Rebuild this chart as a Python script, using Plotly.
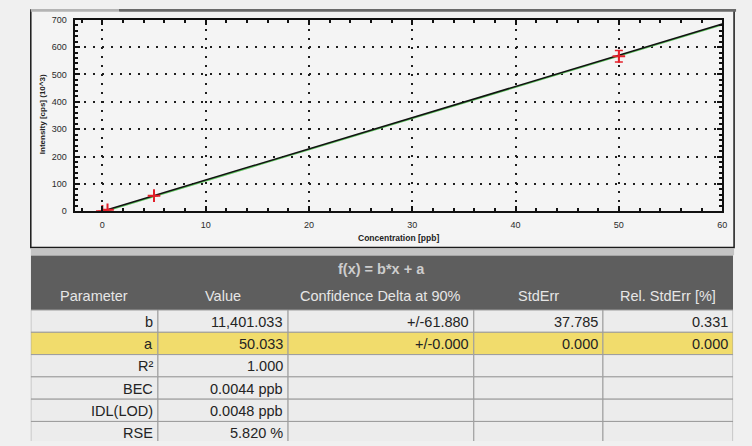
import plotly.graph_objects as go

W, H = 752, 446

# --- calibration standards (intensity in 10^3 cps) ---
std_conc = [0.0, 0.5, 5.0, 50.0]
std_intensity = [0.05, 5.8, 57.0, 566.0]
std_err = [0.0, 0.0, 0.0, 21.0]

# --- linear fit f(x) = b*x + a (b in cps/ppb, a in cps) ---
fit_b = 11401.033
fit_a = 50.033
fit_conc = [0.0, 60.0]

x_ticks = [0, 10, 20, 30, 40, 50, 60]
y_ticks = [0, 100, 200, 300, 400, 500, 600, 700]

# --- regression statistics table ---
col_headers = ["Parameter", "Value", "Confidence Delta at 90%", "StdErr", "Rel. StdErr [%]"]
table_title = "f(x) = b*x + a"
param_names = ["b", "a", "R²", "BEC", "IDL(LOD)", "RSE"]
param_values = ["11,401.033", "50.033", "1.000", "0.0044 ppb", "0.0048 ppb", "5.820 %"]
conf_delta = ["+/-61.880", "+/-0.000", "", "", "", ""]
std_errs = ["37.785", "0.000", "", "", "", ""]
rel_std_errs = ["0.331", "0.000", "", "", "", ""]
highlight_row = 1

# table geometry / style (in table-axis units = pixels)
col_widths = [128, 131, 187, 130, 131]
title_h, header_h, row_h = 27, 29, 22.8
FONT = "Liberation Sans, Arial, sans-serif"


def px_x(p):
    return p / W


def px_y(p):
    return 1 - p / H


fit_y = [(fit_b * c + fit_a) / 1000 for c in fit_conc]
shadow_y = [v - 3 for v in fit_y]

fig = go.Figure()

fig.add_trace(go.Scatter(
    x=fit_conc, y=shadow_y, mode="lines",
    line=dict(color="#5cc25c", width=1.6), hoverinfo="skip", showlegend=False,
))
fig.add_trace(go.Scatter(
    x=fit_conc, y=fit_y, mode="lines",
    line=dict(color="#111111", width=1.5), showlegend=False,
))
fig.add_trace(go.Scatter(
    x=std_conc, y=std_intensity, mode="markers",
    marker=dict(symbol="cross-thin", size=9, line=dict(color="#e3202a", width=2)),
    error_y=dict(type="data", array=std_err, color="#e3202a", thickness=1.5, width=4),
    showlegend=False,
))

# ---------------- statistics table on its own axes ----------------
shapes = []
annotations = []

edges = [0]
for w in col_widths:
    edges.append(edges[-1] + w)
table_w = edges[-1]
header_bottom = title_h + header_h

# dark header block
shapes.append(dict(type="rect", xref="x2", yref="y2", x0=0, x1=table_w, y0=0, y1=header_bottom,
                   fillcolor="#5e5e5e", line=dict(width=0), layer="above"))
annotations.append(dict(text="<b>" + table_title + "</b>", xref="x2", yref="y2",
                        x=table_w / 2, y=title_h / 2 + 1, showarrow=False,
                        xanchor="center", yanchor="middle",
                        font=dict(family=FONT, size=14.5, color="#cdcdcd")))
for j, name in enumerate(col_headers):
    annotations.append(dict(text=name, xref="x2", yref="y2",
                            x=(edges[j] + edges[j + 1]) / 2, y=title_h + header_h / 2,
                            showarrow=False, xanchor="center", yanchor="middle",
                            font=dict(family=FONT, size=14.5, color="#e6e6e6")))

columns = [param_names, param_values, conf_delta, std_errs, rel_std_errs]
for i in range(len(param_names)):
    top = header_bottom + i * row_h
    fill = "#f1dc6c" if i == highlight_row else "#ececec"
    for j, col in enumerate(columns):
        shapes.append(dict(type="rect", xref="x2", yref="y2",
                           x0=edges[j], x1=edges[j + 1], y0=top, y1=top + row_h,
                           fillcolor=fill, line=dict(color="#9c9c9c", width=1), layer="above"))
        if col[i]:
            annotations.append(dict(text=col[i], xref="x2", yref="y2",
                                    x=edges[j + 1] - 3, y=top + row_h / 2 + 0.5,
                                    showarrow=False, xanchor="right", yanchor="middle",
                                    font=dict(family=FONT, size=14.5, color="#242424")))

# ---------------- chart panel decoration ----------------
shapes += [
    dict(type="rect", xref="paper", yref="paper",
         x0=px_x(32), x1=px_x(738), y0=px_y(247), y1=px_y(7),
         line=dict(width=0), fillcolor="#f4f4f4", layer="below"),
    dict(type="rect", xref="paper", yref="paper",
         x0=px_x(31), x1=px_x(739), y0=px_y(248), y1=px_y(5),
         line=dict(color="#1a1a1a", width=1.5), fillcolor="rgba(0,0,0,0)", layer="below"),
    dict(type="rect", xref="paper", yref="paper",
         x0=px_x(31), x1=px_x(120), y0=px_y(7), y1=px_y(4),
         line=dict(width=0), fillcolor="#b4b4b4"),
    dict(type="rect", xref="paper", yref="paper",
         x0=px_x(120), x1=px_x(741), y0=px_y(7), y1=px_y(4),
         line=dict(width=0), fillcolor="#6a6a6a"),
    dict(type="rect", xref="paper", yref="paper",
         x0=px_x(31), x1=px_x(739), y0=px_y(256), y1=px_y(249.5),
         line=dict(width=0), fillcolor="#c4c4c4"),
]

annotations += [
    dict(text="<b>Concentration [ppb]</b>", xref="paper", yref="paper",
         x=px_x(401), y=px_y(238), showarrow=False, xanchor="center", yanchor="middle",
         font=dict(family=FONT, size=8.5, color="#222222")),
    dict(text="<b>Intensity [cps] (10^3)</b>", xref="paper", yref="paper",
         x=px_x(43), y=px_y(112), showarrow=False, textangle=-90,
         xanchor="center", yanchor="middle",
         font=dict(family=FONT, size=8, color="#222222")),
]

axis_common = dict(
    showline=True, linecolor="#111111", linewidth=2,
    mirror="ticks", ticks="inside", ticklen=5, tickwidth=1.5, tickcolor="#111111",
    showgrid=True, gridcolor="#1e1e1e", gridwidth=1.5, griddash="2px,7px",
    zeroline=False,
    tickfont=dict(family=FONT, size=9, color="#2a2a2a"),
)

table_top_px = 256
fig.update_layout(
    width=W, height=H, autosize=False,
    margin=dict(l=0, r=0, t=0, b=0),
    paper_bgcolor="#f0f0f0",
    plot_bgcolor="rgba(0,0,0,0)",
    xaxis=dict(
        domain=[px_x(76), px_x(727)], range=[-2.6, 60],
        tickvals=x_ticks, ticklabelstandoff=4,
        minor=dict(dtick=2, ticks="inside", ticklen=3, tickcolor="#111111", showgrid=False),
        **axis_common,
    ),
    yaxis=dict(
        domain=[px_y(211), px_y(15)], range=[0, 700],
        tickvals=y_ticks, ticklabelstandoff=5,
        minor=dict(dtick=20, ticks="inside", ticklen=3, tickcolor="#111111", showgrid=False),
        **axis_common,
    ),
    xaxis2=dict(domain=[px_x(31), px_x(31 + table_w)], range=[0, table_w],
                visible=False, fixedrange=True, anchor="y2"),
    yaxis2=dict(domain=[0, px_y(table_top_px)], range=[H - table_top_px, 0],
                visible=False, fixedrange=True, anchor="x2"),
    shapes=shapes,
    annotations=annotations,
)

fig.write_html("out.html")
